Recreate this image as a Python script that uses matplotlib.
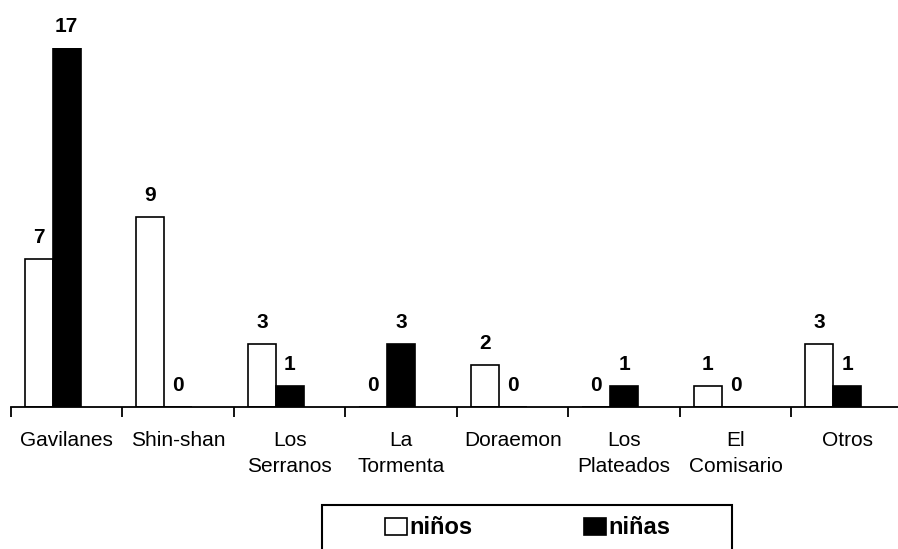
import matplotlib
matplotlib.use("Agg")
import matplotlib.pyplot as plt
from matplotlib.patches import Patch, Rectangle

categories = ["Gavilanes", "Shin-shan", "Los\nSerranos", "La\nTormenta",
              "Doraemon", "Los\nPlateados", "El\nComisario", "Otros"]
ninos = [7, 9, 3, 0, 2, 0, 1, 3]
ninas = [17, 0, 1, 3, 0, 1, 0, 1]
series_names = ["niños", "niñas"]

plt.rcParams['font.family'] = ['Liberation Sans', 'DejaVu Sans']

W, H = 898, 549
fig = plt.figure(figsize=(W / 100, H / 100), dpi=100)
x0, x1 = 11, 903
y0, y1 = 407, 47.7
ax = fig.add_axes([x0 / W, 1 - y0 / H, (x1 - x0) / W, (y0 - y1) / H])
ax.set_xlim(0, len(categories))
ax.set_ylim(0, 17)

bw = 0.25
idx = range(len(categories))
for i in idx:
    ax.bar(i + 0.125, ninos[i], width=bw, align='edge', color='white',
           edgecolor='black', linewidth=1.2, zorder=2)
    ax.bar(i + 0.375, ninas[i], width=bw, align='edge', color='black',
           edgecolor='black', linewidth=1.2, zorder=2)
    ax.annotate(str(ninos[i]), (i + 0.25, ninos[i]), xytext=(0, 11.5),
                textcoords='offset points', ha='center', va='baseline',
                fontsize=15, fontweight='bold')
    ax.annotate(str(ninas[i]), (i + 0.5, ninas[i]), xytext=(0, 11.5),
                textcoords='offset points', ha='center', va='baseline',
                fontsize=15, fontweight='bold')

for s in ['left', 'top', 'right']:
    ax.spines[s].set_visible(False)
ax.spines['bottom'].set_linewidth(1.3)
ax.set_yticks([])
ax.set_xticks(list(range(len(categories) + 1)))
ax.set_xticklabels([])
ax.tick_params(axis='x', which='major', length=7, width=1.3, direction='out')
ax.set_xticks([i + 0.5 for i in idx], minor=True)
ax.set_xticklabels(categories, minor=True, fontsize=15, linespacing=1.5)
ax.tick_params(axis='x', which='minor', length=0, pad=17)
for t in ax.get_xticklabels(minor=True):
    t.set_verticalalignment('top')

handles = [Patch(facecolor='white', edgecolor='black', linewidth=1.2),
           Patch(facecolor='black', edgecolor='black', linewidth=1.2)]
leg = fig.legend(handles, series_names, loc='center', ncol=2, frameon=False,
                 bbox_to_anchor=((377 + 678) / 2 / W, 1 - 528 / H),
                 prop={'size': 17, 'weight': 'bold'},
                 handlelength=0.95, handleheight=0.72, handletextpad=0.1,
                 columnspacing=4.7)
fig.add_artist(Rectangle((322 / W, -0.02), 410 / W, (549 - 505) / H + 0.02,
                         transform=fig.transFigure, fill=False,
                         edgecolor='black', linewidth=1.5))

fig.savefig("out.png", dpi=100)
